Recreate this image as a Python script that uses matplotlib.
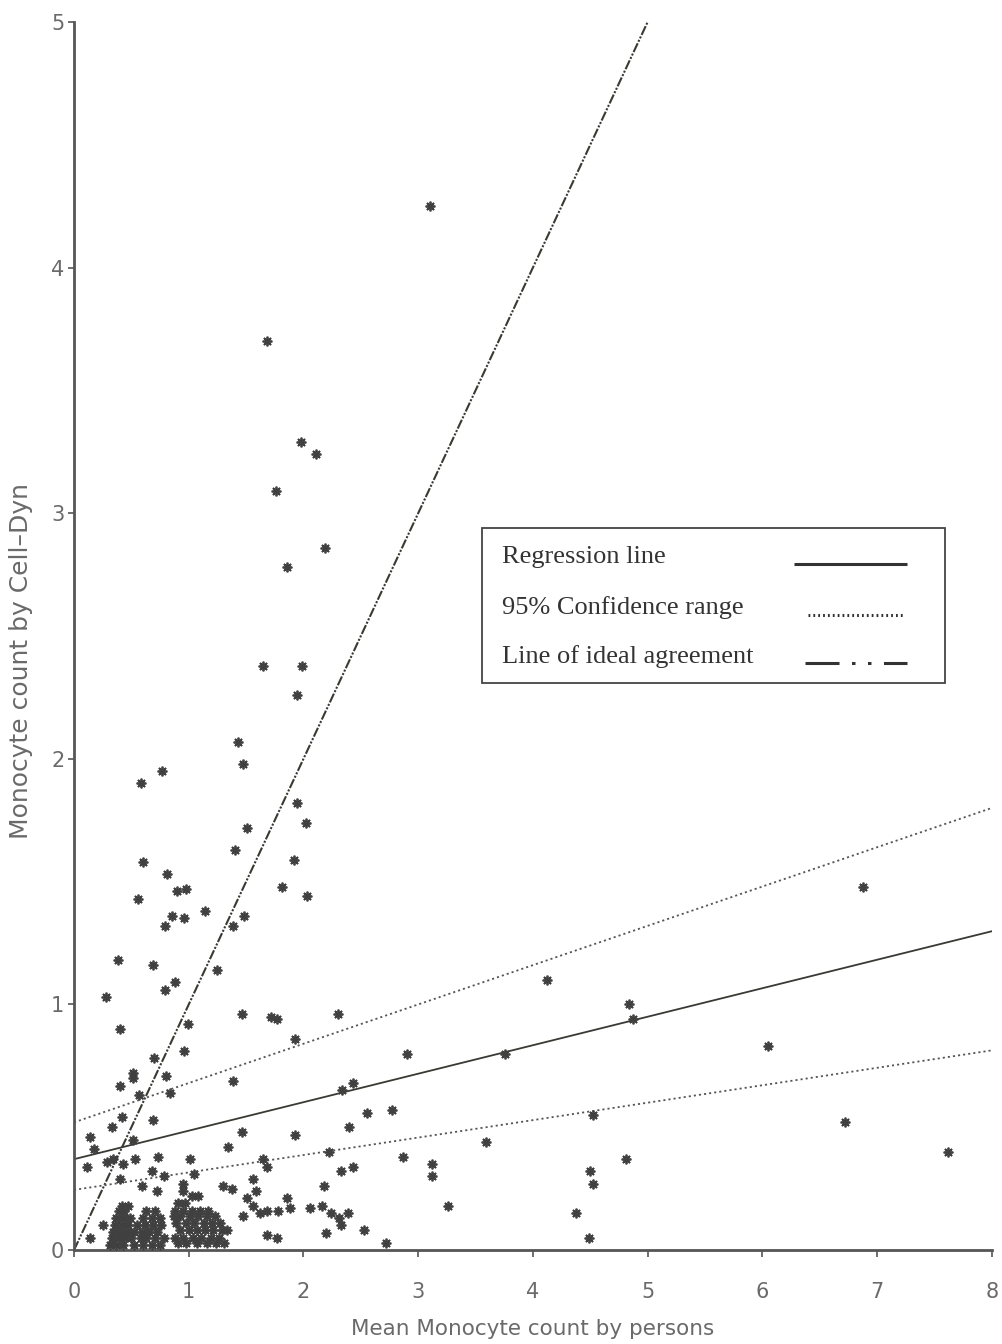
import matplotlib
matplotlib.use("Agg")
import matplotlib.pyplot as plt
import numpy as np

plt.rcParams.update({
    "font.family": "DejaVu Sans",
    "lines.scale_dashes": False,
})

# values
mean_persons = [
    3.10, 1.68, 1.98, 2.11, 1.76, 2.19, 1.86, 1.65, 1.99, 1.94,
    1.43, 1.47, 0.77, 0.58, 1.94, 2.02, 1.51, 1.40, 1.92, 0.60,
    0.81, 0.90, 0.98, 0.56, 1.81, 2.03, 1.14, 0.85, 0.96, 0.79,
    1.48, 1.39, 0.38, 0.69, 1.25, 0.79, 0.88, 0.28, 0.99, 0.40,
    1.46, 1.72, 1.77, 1.93, 0.96, 0.70, 0.51, 0.51, 0.80, 0.40,
    1.39, 0.84, 0.57, 2.30, 4.12, 4.84, 4.87, 2.90, 3.76, 2.34,
    2.43, 2.55, 2.77, 2.40, 4.52, 3.59, 2.22, 2.87, 2.33, 2.43,
    3.12, 3.12, 4.50, 4.52, 4.81, 2.18, 2.06, 2.16, 2.24, 2.31,
    2.33, 2.39, 3.26, 4.38, 4.49, 2.20, 2.53, 2.72, 6.88, 6.05,
    6.72, 7.62,
    0.42, 0.33, 0.14, 0.69, 0.51, 0.17, 0.11, 0.29, 0.43, 0.53,
    0.73, 1.01, 0.40, 0.68, 0.78, 1.05, 0.59, 0.72, 0.95, 0.95,
    1.03, 1.08, 1.30, 1.38, 1.34, 1.46, 1.65, 1.68, 1.56, 1.59,
    1.51, 1.86, 1.88, 1.93, 1.56, 1.62, 1.68, 1.47, 1.78, 1.68,
    1.77, 0.25, 0.14, 0.34,
    # dense cluster, left part
    0.42, 0.47, 0.39, 0.44, 0.63, 0.71, 0.37, 0.43, 0.49, 0.60,
    0.68, 0.75, 0.36, 0.42, 0.47, 0.55, 0.62, 0.69, 0.76, 0.34,
    0.40, 0.46, 0.52, 0.59, 0.65, 0.72, 0.33, 0.39, 0.44, 0.50,
    0.58, 0.63, 0.71, 0.78, 0.31, 0.37, 0.43, 0.52, 0.60, 0.68,
    0.75,
    # dense cluster, right part
    0.91, 0.97, 0.88, 0.95, 1.03, 1.10, 1.17, 0.87, 0.92, 1.01,
    1.08, 1.16, 1.23, 0.89, 0.98, 1.05, 1.13, 1.20, 1.27, 0.92,
    1.00, 1.07, 1.14, 1.21, 1.29, 1.33, 0.88, 0.95, 1.04, 1.11,
    1.19, 1.26, 0.91, 0.98, 1.07, 1.16, 1.24, 1.31,
]
cell_dyn = [
    4.25, 3.70, 3.29, 3.24, 3.09, 2.86, 2.78, 2.38, 2.38, 2.26,
    2.07, 1.98, 1.95, 1.90, 1.82, 1.74, 1.72, 1.63, 1.59, 1.58,
    1.53, 1.46, 1.47, 1.43, 1.48, 1.44, 1.38, 1.36, 1.35, 1.32,
    1.36, 1.32, 1.18, 1.16, 1.14, 1.06, 1.09, 1.03, 0.92, 0.90,
    0.96, 0.95, 0.94, 0.86, 0.81, 0.78, 0.72, 0.70, 0.71, 0.67,
    0.69, 0.64, 0.63, 0.96, 1.10, 1.00, 0.94, 0.80, 0.80, 0.65,
    0.68, 0.56, 0.57, 0.50, 0.55, 0.44, 0.40, 0.38, 0.32, 0.34,
    0.35, 0.30, 0.32, 0.27, 0.37, 0.26, 0.17, 0.18, 0.15, 0.13,
    0.10, 0.15, 0.18, 0.15, 0.05, 0.07, 0.08, 0.03, 1.48, 0.83,
    0.52, 0.40,
    0.54, 0.50, 0.46, 0.53, 0.45, 0.41, 0.34, 0.36, 0.35, 0.37,
    0.38, 0.37, 0.29, 0.32, 0.30, 0.31, 0.26, 0.24, 0.27, 0.24,
    0.22, 0.22, 0.26, 0.25, 0.42, 0.48, 0.37, 0.34, 0.29, 0.24,
    0.21, 0.21, 0.17, 0.47, 0.18, 0.15, 0.16, 0.14, 0.16, 0.06,
    0.05, 0.10, 0.05, 0.37,
    0.18, 0.18, 0.16, 0.16, 0.16, 0.16, 0.13, 0.13, 0.13, 0.13,
    0.13, 0.13, 0.10, 0.10, 0.10, 0.10, 0.10, 0.10, 0.10, 0.075,
    0.075, 0.075, 0.075, 0.075, 0.075, 0.075, 0.05, 0.05, 0.05, 0.05,
    0.05, 0.05, 0.05, 0.05, 0.02, 0.02, 0.02, 0.02, 0.02, 0.02,
    0.02,
    0.19, 0.19, 0.16, 0.16, 0.16, 0.16, 0.16, 0.14, 0.14, 0.14,
    0.14, 0.14, 0.14, 0.11, 0.11, 0.11, 0.11, 0.11, 0.11, 0.08,
    0.08, 0.08, 0.08, 0.08, 0.08, 0.08, 0.05, 0.05, 0.05, 0.05,
    0.05, 0.05, 0.03, 0.03, 0.03, 0.03, 0.03, 0.03,
]

# fitted lines (intercept, slope)
regression = (0.37, 0.116)
ci_upper = (0.52, 0.160)
ci_lower = (0.245, 0.071)
ideal = (0.0, 1.0)

x_ticks = [0, 1, 2, 3, 4, 5, 6, 7, 8]
y_ticks = [0, 1, 2, 3, 4, 5]

INK = "#3a3a34"
GREY = "#6a6a6a"

fig = plt.figure(figsize=(10.03, 13.44), dpi=100)
ax = fig.add_axes([0.0738, 0.0699, 0.915, 0.9137])

xs = np.array([0, 8])
ax.plot(xs, ideal[0] + ideal[1] * xs, color=INK, lw=1.5,
        linestyle=(0, (7, 1.2, 1.5, 1.2, 1.5, 1.2)), zorder=2)
ax.plot(xs, regression[0] + regression[1] * xs, color=INK, lw=1.3, zorder=2)
for a, b in (ci_upper, ci_lower):
    ax.plot(xs, a + b * xs, color="#555555", lw=1.3,
            linestyle=(0, (1.5, 2.2)), zorder=2)

ax.plot(mean_persons, cell_dyn, linestyle="none", marker=(8, 2, 0),
        markersize=7, markeredgewidth=1.3, color="#404040", zorder=3)

ax.set_xlim(0, 8)
ax.set_ylim(0, 5)
ax.set_xticks(x_ticks)
ax.set_yticks(y_ticks)
for s in ("top", "right"):
    ax.spines[s].set_visible(False)
for s in ("left", "bottom"):
    ax.spines[s].set_color("#555555")
    ax.spines[s].set_linewidth(2)
ax.tick_params(axis="x", direction="out", length=5, width=1.2, color="#555555",
               pad=18, labelsize=15, labelcolor=GREY)
ax.tick_params(axis="y", direction="out", length=4, width=1.2, color="#555555",
               pad=3, labelsize=15, labelcolor=GREY)

ax.set_xlabel("Mean Monocyte count by persons", fontsize=15.5, color=GREY,
              labelpad=12)
ax.set_ylabel("Monocyte count by Cell\u2013Dyn", fontsize=18, color=GREY,
              labelpad=14)
ax.yaxis.set_label_coords(-0.045, 0.48)

# legend box, drawn by hand so the keys sit in a right-hand column
box = plt.Rectangle((0.444, 0.462), 0.505, 0.126, transform=ax.transAxes,
                    facecolor="white", edgecolor="#444444", lw=1.3, zorder=4)
ax.add_patch(box)
entries = [
    ("Regression line", 0.559, "-"),
    ("95% Confidence range", 0.517, (0, (1.3, 2.2))),
    ("Line of ideal agreement", 0.478, (0, (24.5, 9, 2.5, 9, 2.5, 9))),
]
key_x = {0: (0.785, 0.908), 1: (0.800, 0.905), 2: (0.796, 0.908)}
text_y = [0.564, 0.523, 0.483]
for i, (label, ky, ls) in enumerate(entries):
    ax.text(0.466, text_y[i], label, transform=ax.transAxes, ha="left",
            va="center", fontsize=19, family="Liberation Serif",
            color="#333333", zorder=5)
    ax.plot(key_x[i], [ky, ky], transform=ax.transAxes, color="#333333",
            lw=2.2, linestyle=ls, zorder=5, solid_capstyle="butt",
            dash_capstyle="butt")

fig.savefig("out.png", dpi=100)
